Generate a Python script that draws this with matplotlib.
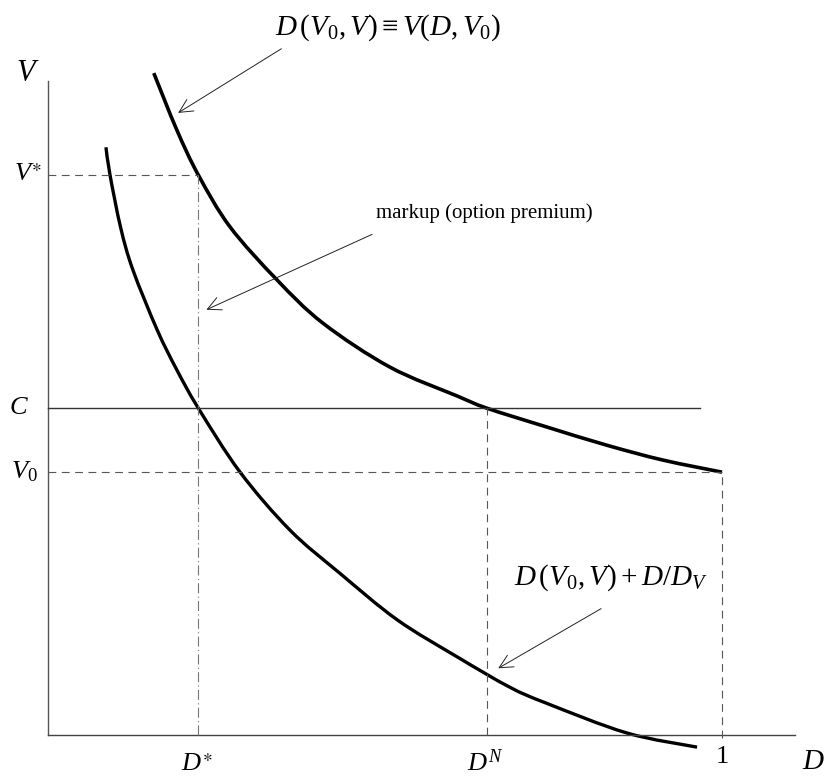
import numpy as np
import matplotlib
matplotlib.use("Agg")
import matplotlib.pyplot as plt
from matplotlib.path import Path
from matplotlib.patches import PathPatch

plt.rcParams['font.family'] = ['Liberation Serif', 'DejaVu Serif']
plt.rcParams['mathtext.fontset'] = 'custom'
plt.rcParams['mathtext.rm'] = 'Liberation Serif'
plt.rcParams['mathtext.it'] = 'Liberation Serif:italic'
plt.rcParams['mathtext.bf'] = 'Liberation Serif:bold'
plt.rcParams['mathtext.fallback'] = 'stix'

# key levels on the two axes
D_star, D_N, D_one = 0.223, 0.651, 1.0
V_star, C_level, V0 = 0.831, 0.485, 0.390

# D(V0, V) = V(D, V0)
upper_D = [0.157, 0.191, 0.223, 0.270, 0.340, 0.408, 0.507, 0.607, 0.651,
           0.740, 0.829, 0.912, 1.000]
upper_V = [0.982, 0.898, 0.831, 0.754, 0.675, 0.611, 0.546, 0.503, 0.485,
           0.457, 0.430, 0.408, 0.390]

# D(V0, V) + D/D_V
lower_D = [0.086, 0.092, 0.108, 0.126, 0.162, 0.191, 0.223, 0.285, 0.359,
           0.433, 0.518, 0.607, 0.685, 0.740, 0.859, 0.963]
lower_V = [0.872, 0.831, 0.752, 0.690, 0.601, 0.542, 0.485, 0.390, 0.304,
           0.240, 0.171, 0.116, 0.071, 0.047, 0.003, -0.018]


def smooth_path(xs, ys):
    # Catmull-Rom through the points, written as cubic Bezier segments
    p = np.column_stack([xs, ys])
    verts = [p[0]]
    codes = [Path.MOVETO]
    n = len(p)
    for i in range(n - 1):
        p0 = p[i - 1] if i > 0 else p[i]
        p1, p2 = p[i], p[i + 1]
        p3 = p[i + 2] if i + 2 < n else p[i + 1]
        verts += [p1 + (p2 - p0) / 6, p2 - (p3 - p1) / 6, p2]
        codes += [Path.CURVE4] * 3
    return Path(verts, codes)


fig = plt.figure(figsize=(8.25, 7.76), dpi=100)
ax = fig.add_axes([0, 0, 1, 1])
ax.set_xlim(-0.0712, 1.1528)
ax.set_ylim(-0.0608, 1.0905)
ax.axis('off')

# axes
ax.plot([0, 0], [0, 0.970], color='#555555', lw=1.0)
ax.plot([0, 1.108], [0, 0], color='#444444', lw=1.0)

dash = dict(color='#555555', lw=0.8, dashes=(7, 5))
ax.plot([0, D_star], [V_star, V_star], **dash)
ax.plot([D_star, D_star], [0, V_star], color='#777777', lw=0.8, dashes=(9, 3, 1, 3))
ax.plot([0, D_one], [V0, V0], **dash)
ax.plot([D_N, D_N], [0, C_level], **dash)
ax.plot([D_one, D_one], [-0.005, V0], **dash)
ax.plot([0, 0.967], [C_level, C_level], color='#333333', lw=1.0)

for xs, ys, w in [(upper_D, upper_V, 2.6), (lower_D, lower_V, 2.4)]:
    ax.add_patch(PathPatch(smooth_path(xs, ys), fill=False, edgecolor='black',
                           lw=w, capstyle='butt'))

# axis labels and level labels
ax.text(-0.030, 0.982, r'$V$', fontsize=22, ha='center', va='center')
ax.text(1.136, -0.040, r'$D$', fontsize=21, ha='center', va='center')
ax.text(-0.030, V_star, r'$V^{\ast}$', fontsize=19, ha='center', va='center')
ax.text(-0.043, C_level, r'$C$', fontsize=19, ha='center', va='center')
ax.text(-0.035, V0, r'$V_0$', fontsize=19, ha='center', va='center')
ax.text(D_star - 0.003, -0.045, r'$D^{\ast}$', fontsize=19, ha='center', va='center')
ax.text(D_N - 0.003, -0.041, r'$D^N$', fontsize=19, ha='center', va='center')
ax.text(D_one, -0.033, '1', fontsize=19, ha='center', va='center')

arrow = dict(arrowstyle='->', color='#222222', lw=0.7,
             mutation_scale=24, shrinkA=0, shrinkB=0)
ax.annotate(r'$D\,(V_0,V) \equiv V(D,V_0)$', xy=(0.193, 0.923), xytext=(0.504, 1.050),
            fontsize=21, ha='center', va='center',
            arrowprops=dict(arrow, relpos=(0.03, -0.2)))
ax.annotate('markup (option premium)', xy=(0.235, 0.631), xytext=(0.648, 0.775),
            fontsize=15, ha='center', va='center',
            arrowprops=dict(arrow, relpos=(-0.02, -0.6)))
ax.annotate(r'$D\,(V_0,V) + D/D_V$', xy=(0.668, 0.099), xytext=(0.835, 0.233),
            fontsize=21, ha='center', va='center',
            arrowprops=dict(arrow, relpos=(0.45, -0.5)))

fig.savefig('out.png', dpi=100)
